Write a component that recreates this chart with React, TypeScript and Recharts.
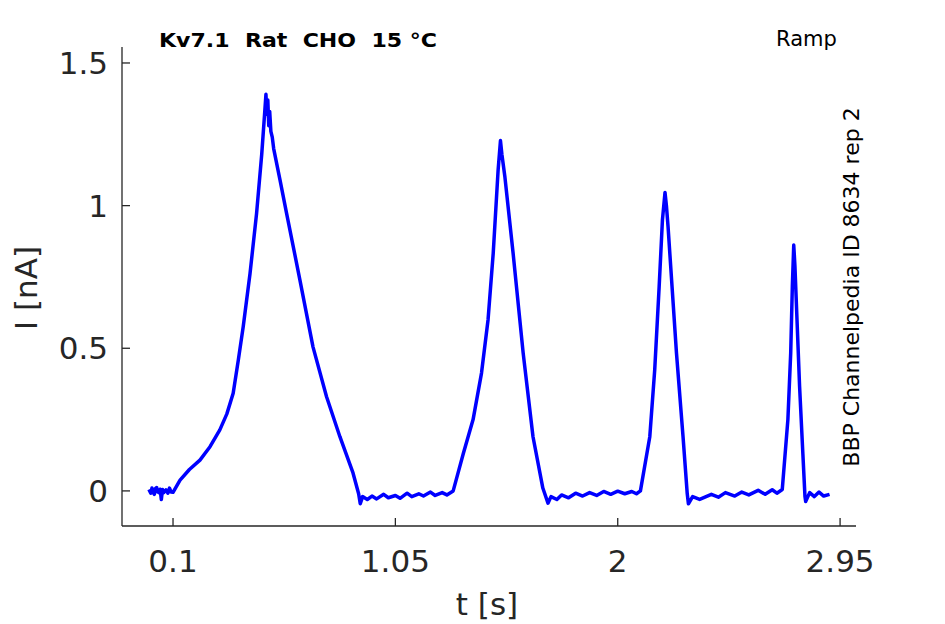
import React from "react";
import { LineChart, Line, XAxis, YAxis } from "recharts";

const timeS: number[] = [
  -0.003, 0.005, 0.01, 0.015, 0.02, 0.025, 0.03, 0.035, 0.04, 0.045, 0.05, 0.055, 0.06, 0.07, 0.078, 0.085, 0.092, 0.1,
  0.13, 0.17, 0.215, 0.258, 0.3, 0.33, 0.357, 0.379, 0.4, 0.429, 0.457, 0.479, 0.492, 0.497,
  0.501, 0.505, 0.509, 0.513, 0.518, 0.524, 0.53, 0.557, 0.585, 0.642, 0.698, 0.756, 0.813,
  0.869, 0.893, 0.9, 0.91,
  0.93, 0.95, 0.97, 1.0, 1.02, 1.05, 1.07, 1.1, 1.12, 1.15, 1.17, 1.2, 1.22, 1.25, 1.27, 1.297,
  1.34, 1.382, 1.418, 1.446, 1.468, 1.489, 1.499, 1.505, 1.518, 1.553, 1.596, 1.638, 1.68,
  1.702, 1.715, 1.74, 1.76, 1.79, 1.82, 1.85, 1.88, 1.91, 1.94, 1.97, 2.0, 2.03, 2.06, 2.08, 2.097,
  2.137, 2.158, 2.177, 2.191, 2.202, 2.208, 2.215, 2.251, 2.279, 2.297, 2.302, 2.32, 2.35, 2.4,
  2.43, 2.46, 2.5, 2.53, 2.56, 2.6, 2.63, 2.66, 2.68, 2.703,
  2.727, 2.739, 2.746, 2.752, 2.757, 2.777, 2.791, 2.8, 2.803, 2.82, 2.84, 2.86, 2.88, 2.905,
];

const currentNA: number[] = [
  0.005, -0.008, 0.01, -0.006, -0.012, 0.008, 0.012, -0.004, -0.006, 0.006, -0.03, 0.005, -0.006, 0.004, -0.008, 0.01, -0.004, -0.005,
  0.038, 0.075, 0.108, 0.155, 0.214, 0.27, 0.342, 0.459, 0.576, 0.762, 0.973, 1.18, 1.33, 1.39,
  1.32, 1.37, 1.28, 1.33, 1.26, 1.24, 1.2, 1.09, 0.974, 0.74, 0.505, 0.33, 0.19,
  0.063, -0.01, -0.045, -0.02,
  -0.03, -0.018, -0.028, -0.012, -0.024, -0.016, -0.026, -0.008, -0.02, -0.01, -0.018, -0.004, -0.016, -0.006, -0.014, 0.0,
  0.13, 0.25, 0.413, 0.6, 0.833, 1.125, 1.228, 1.18, 1.1, 0.833, 0.483, 0.19, 0.01,
  -0.043, -0.02, -0.03, -0.014, -0.024, -0.008, -0.018, -0.006, -0.016, -0.002, -0.012, -0.001, -0.01, -0.002, -0.01, 0.0,
  0.19, 0.424, 0.716, 0.95, 1.046, 1.0, 0.926, 0.483, 0.19, -0.01, -0.045, -0.02, -0.03, -0.012,
  -0.022, -0.006, -0.018, -0.004, -0.014, 0.002, -0.012, 0.004, -0.008, 0.005,
  0.25, 0.483, 0.716, 0.862, 0.79, 0.366, 0.13, -0.02, -0.037, -0.006, -0.02, -0.004, -0.018, -0.012,
];

const xTicks: number[] = [0.1, 1.05, 2, 2.95];
const yTicks: number[] = [0, 0.5, 1, 1.5];

const data = timeS.map((t, i) => ({ t, i: currentNA[i] }));

const INK = "#262626";
const FONT = "DejaVu Sans";

const XTick = (props: any) => {
  const { x, y, payload } = props;
  return (
    <g>
      <line x1={x} y1={y} x2={x} y2={y - 8} stroke={INK} strokeWidth={1.3} />
      <text x={x} y={y + 46} textAnchor="middle" fontSize={31} fill={INK} fontFamily={FONT}>
        {String(payload.value)}
      </text>
    </g>
  );
};

const YTick = (props: any) => {
  const { x, y, payload } = props;
  return (
    <g>
      <line x1={x} y1={y} x2={x + 8} y2={y} stroke={INK} strokeWidth={1.3} />
      <text x={x - 14} y={y + 11} textAnchor="end" fontSize={31} fill={INK} fontFamily={FONT}>
        {String(payload.value)}
      </text>
    </g>
  );
};

export default function App() {
  return (
    <div style={{ position: "absolute", left: 0, top: 0, width: 945, height: 624, background: "#fff" }}>
      <LineChart
        width={945}
        height={624}
        data={data}
        margin={{ top: 47, right: 89, left: 0, bottom: 0 }}
      >
        <XAxis
          dataKey="t"
          type="number"
          domain={[-0.118, 3.018]}
          allowDataOverflow
          ticks={xTicks}
          interval={0}
          height={98}
          tickSize={0}
          tickMargin={0}
          tickLine={false}
          axisLine={{ stroke: INK, strokeWidth: 1.3 }}
          tick={<XTick />}
        />
        <YAxis
          type="number"
          domain={[-0.123, 1.556]}
          allowDataOverflow
          ticks={yTicks}
          interval={0}
          width={122}
          tickSize={0}
          tickMargin={0}
          tickLine={false}
          axisLine={{ stroke: INK, strokeWidth: 1.3 }}
          tick={<YTick />}
        />
        <Line
          type="linear"
          dataKey="i"
          stroke="#0000ff"
          strokeWidth={3.5}
          strokeLinejoin="round"
          dot={false}
          isAnimationActive={false}
        />
      </LineChart>
      <svg
        width={945}
        height={624}
        style={{ position: "absolute", left: 0, top: 0, pointerEvents: "none" }}
      >
        <text
          x={159}
          y={47}
          fontSize={20}
          fontWeight="bold"
          fill="#000"
          fontFamily={FONT}
          textLength={278}
          lengthAdjust="spacingAndGlyphs"
          style={{ whiteSpace: "pre" }}
        >
          {"Kv7.1  Rat  CHO  15 °C"}
        </text>
        <text x={776} y={46} fontSize={21} fill="#000" fontFamily={FONT}>
          Ramp
        </text>
        <text
          transform="translate(859,287) rotate(-90)"
          textAnchor="middle"
          fontSize={22}
          fill="#000"
          fontFamily={FONT}
        >
          BBP Channelpedia ID 8634 rep 2
        </text>
        <text
          transform="translate(37,288) rotate(-90)"
          textAnchor="middle"
          fontSize={31}
          fill={INK}
          fontFamily={FONT}
        >
          I [nA]
        </text>
        <text x={487} y={615} textAnchor="middle" fontSize={31} fill={INK} fontFamily={FONT}>
          t [s]
        </text>
      </svg>
    </div>
  );
}
